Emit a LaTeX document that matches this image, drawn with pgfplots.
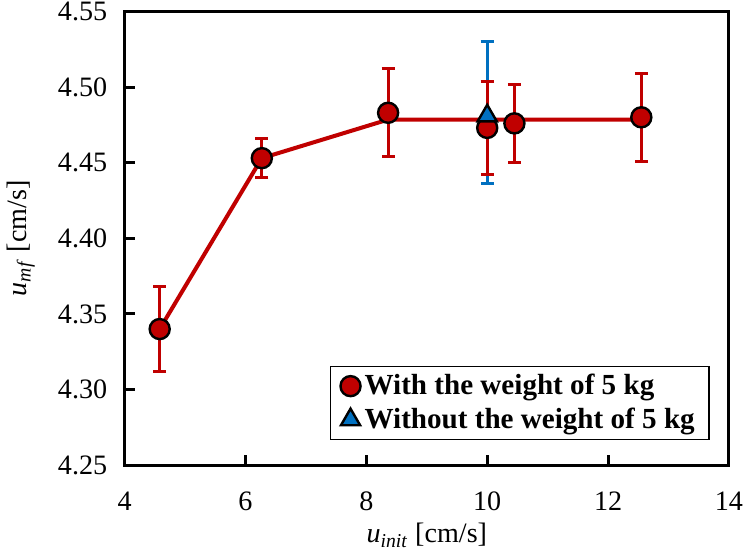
\documentclass[border=0pt]{standalone}
\usepackage{fontspec}
\setmainfont{Liberation Serif}
\usepackage{pgfplots}
\pgfplotsset{compat=1.18}

\definecolor{dred}{HTML}{C00000}
\definecolor{dblue}{HTML}{0070C0}

\begin{document}
\begin{tikzpicture}
\begin{axis}[
  scale only axis,
  width=301pt, height=226pt,
  xmin=4, xmax=14, ymin=4.25, ymax=4.55,
  xtick={4,6,...,14},
  ytick={4.25,4.30,...,4.56},
  tick pos=left,
  tick align=inside,
  major tick length=5pt,
  axis line style={line width=1.5pt},
  every tick/.style={black, line width=1.5pt},
  /pgf/number format/assume math mode=true,
  ticklabel style={font=\fontsize{14}{16}\selectfont, inner sep=1pt},
  yticklabel style={/pgf/number format/fixed, /pgf/number format/fixed zerofill,
    /pgf/number format/precision=2, xshift=-7.5pt},
  xticklabel style={yshift=-12pt},
  xlabel={\textit{u}\textsubscript{\textit{init}} [cm/s]},
  ylabel={\textit{u}\textsubscript{\textit{mf}} [cm/s]},
  label style={font=\fontsize{14}{16}\selectfont},
  xlabel style={at={(axis description cs:0.5,-0.155)}, anchor=center},
  ylabel style={at={(axis description cs:-0.172,0.5)}, anchor=center},
  legend style={
    at={(axis description cs:0.968,0.055)}, anchor=south east,
    draw=black, line width=0.75pt,
    font=\fontsize{14.5}{17}\selectfont\bfseries,
    row sep=1pt, inner xsep=5pt, inner ysep=2pt,
  },
  legend cell align=left,
]
% connecting line
\addplot[dred, line width=2pt, forget plot]
  coordinates {(4.58,4.340) (6.27,4.453) (8.36,4.4785) (12.55,4.4785)};
% blue error bars (under the red points)
\addplot[dblue, only marks, mark=none, forget plot,
  error bars/.cd, y dir=both, y explicit,
  error bar style={line width=1.5pt, dblue},
  error mark options={rotate=90, mark size=3.25pt, line width=1.5pt, dblue}]
  coordinates {(10.0,4.483) +- (0,0.047)};
% with the weight
\addplot[only marks, mark=*, mark size=5pt,
  mark options={fill=dred, draw=black, line width=1.2pt},
  error bars/.cd, y dir=both, y explicit,
  error bar style={line width=1.5pt, dred},
  error mark options={rotate=90, mark size=3.25pt, line width=1.5pt, dred}]
  coordinates {
    (4.58,4.340)   +- (0,0.028)
    (6.27,4.453)   +- (0,0.013)
    (8.36,4.483)   +- (0,0.029)
    (10.0,4.473)   +- (0,0.0305)
    (10.45,4.476)  +- (0,0.026)
    (12.55,4.480)  +- (0,0.029)
  };
\addlegendentry{With the weight of 5 kg}
% without the weight
\addplot[only marks, mark=triangle*, mark size=5.5pt,
  mark options={fill=dblue, draw=black, line width=1.2pt}]
  coordinates {(10.0,4.481)};
\addlegendentry{Without the weight of 5 kg}
\end{axis}
\end{tikzpicture}
\end{document}
